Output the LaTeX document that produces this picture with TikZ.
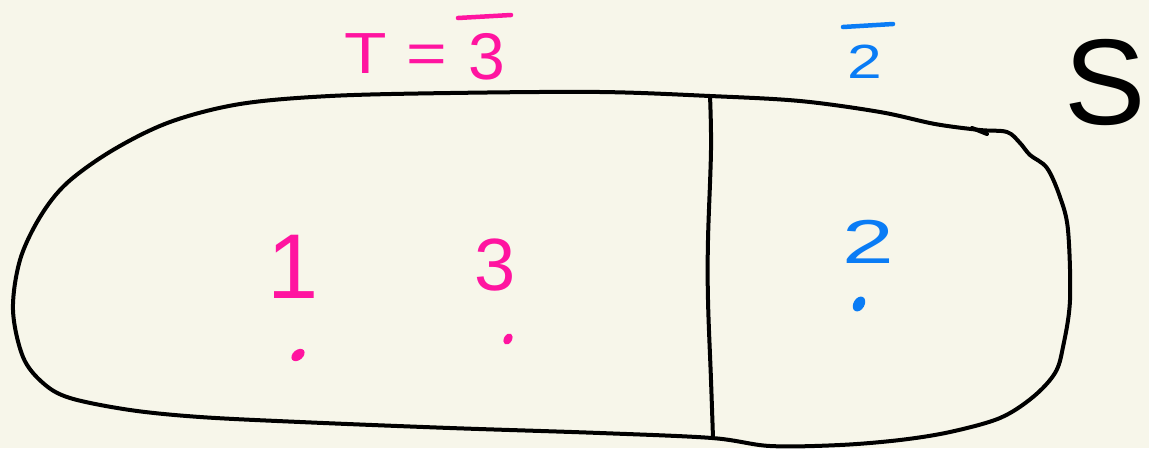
\documentclass[tikz,border=0pt]{standalone}
\usepackage{fontspec}
\usetikzlibrary{calc}
\setmainfont{Liberation Sans}
\definecolor{bgc}{RGB}{247,246,234}
\definecolor{mag}{RGB}{255,20,160}
\definecolor{blu}{RGB}{10,124,245}
\begin{document}
\begin{tikzpicture}[x=1pt,y=-1pt,
  outline/.style={line width=4pt,line cap=round,line join=round,black},
  magtext/.style={text=mag,inner sep=0pt,anchor=base},
  blutext/.style={text=blu,inner sep=0pt,anchor=base},
  barline/.style={line width=4.5pt,line cap=round}]
\useasboundingbox (0,0) rectangle (1149,448);
\fill[bgc] (0,0) rectangle (1149,448);
\begin{scope}
\clip (0,0) rectangle (1149,448);
% blob
\draw[outline] plot[smooth cycle,tension=0.55] coordinates {
 (113,150) (170,122) (240,104) (330,96) (450,93) (600,92) (710,96)
 (800,101) (880,112) (935,124) (980,130) (1007,132) (1020,143)
 (1030,155) (1047,168) (1060,197) (1068,230) (1070,300) (1063,347)
 (1055,373) (1033,397) (1000,418) (950,432) (900,440) (840,445)
 (770,446) (712,438) (600,433) (450,428) (300,422) (200,417)
 (130,410) (70,398) (43,383) (23,357) (13,310) (20,260) (40,217) (67,183)};
\draw[outline] (972,128) -- (987,134);
% divider
\draw[outline] plot[smooth,tension=0.6] coordinates {(710,96) (711,150) (708,240) (708,300) (711,380) (713,438)};
% labels
\node[magtext,font=\fontsize{58}{60}\selectfont] (tlab) at (396,73) {\scalebox{1.2}[1]{T =}};
\node[magtext,font=\fontsize{66}{66}\selectfont] (t3) at (487,79) {3};
\draw[barline,mag] ($(t3.base)+(-29,-61)$) -- ($(t3.base)+(24,-64)$);
\node[blutext,font=\fontsize{48}{50}\selectfont] (b2) at (865,78) {\scalebox{1.3}[1]{2}};
\draw[barline,blu] ($(b2.base)+(-22,-51)$) -- ($(b2.base)+(28,-54)$);
\node[inner sep=0pt,anchor=base west,font=\fontsize{122}{122}\selectfont] (slab) at (1064,124) {S};
% points
\node[magtext,font=\fontsize{92}{92}\selectfont] (n1) at (293,298) {1};
\node[magtext,font=\fontsize{74}{74}\selectfont] (n3) at (495,290) {3};
\node[blutext,font=\fontsize{62}{62}\selectfont] (n2) at (868,263) {\scalebox{1.5}[1]{2}};
\fill[mag,rotate around={40:(298,355)}] (298,355) ellipse (7.5pt and 5pt);
\fill[mag,rotate around={60:(508,339)}] (508,339) ellipse (6pt and 4pt);
\fill[blu,rotate around={60:(859,304)}] (859,304) ellipse (8pt and 5.5pt);
\end{scope}
\end{tikzpicture}
\end{document}
